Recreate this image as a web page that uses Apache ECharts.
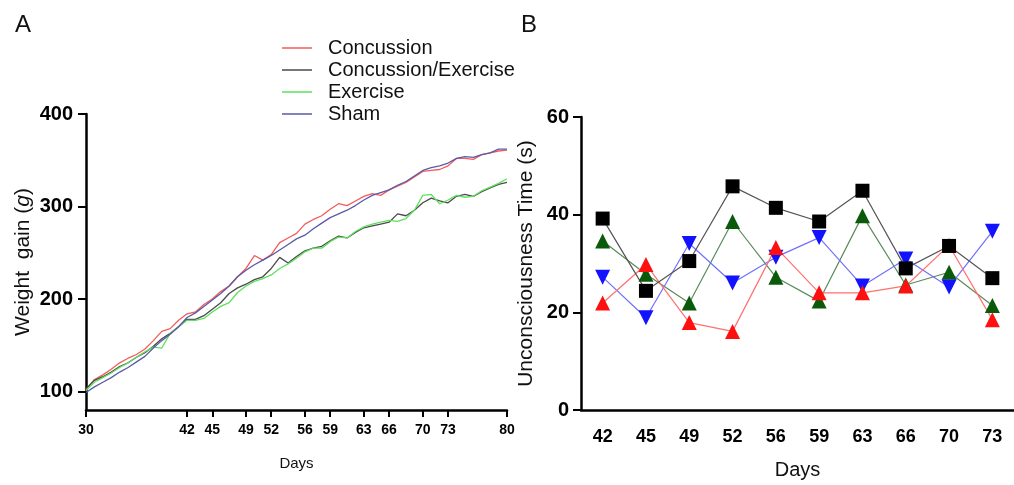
<!DOCTYPE html>
<html>
<head>
<meta charset="utf-8">
<script src="https://cdn.jsdelivr.net/npm/echarts@6/dist/echarts.min.js"></script>
<style>
html, body { margin: 0; padding: 0; background: #fff; }
#chart1 { width: 1014px; height: 485px; }
</style>
</head>
<body>
<div id="chart1"></div>
<script>
// panel A: weight gain, one value per day from 30 to 80
var days = [];
for (var d = 30; d <= 80; d++) days.push(d);
var dayTicks = [30, 42, 45, 49, 52, 56, 59, 63, 66, 70, 73, 80];
var weightTicks = [100, 200, 300, 400];

var concussion = [102, 113, 118, 124, 131, 136, 140, 146, 155, 165, 168, 177, 184, 186, 194, 200, 208, 214, 224, 233,
    247, 242, 248, 261, 266, 271, 281, 286, 290, 297, 303, 301, 306, 311, 314, 312, 318, 322, 326, 332,
    338, 339, 340, 344, 352, 352, 351, 356, 358, 360, 361];
var concExercise = [103, 112, 116, 121, 127, 131, 137, 142, 149, 157, 163, 170, 178, 178, 182, 189, 196, 206, 212, 216,
    221, 224, 233, 245, 239, 246, 252, 255, 257, 263, 268, 266, 272, 277, 279, 281, 283, 292, 290, 296,
    304, 309, 306, 304, 311, 313, 311, 316, 320, 324, 326];
var exercise = [101, 110, 115, 120, 126, 131, 137, 143, 148, 147, 163, 170, 177, 177, 179, 186, 192, 196, 207, 214,
    219, 222, 226, 233, 238, 244, 251, 255, 255, 262, 267, 266, 273, 278, 281, 283, 285, 284, 287, 296,
    312, 313, 303, 307, 312, 310, 311, 317, 321, 325, 330];
var sham = [99, 105, 110, 115, 121, 126, 132, 138, 147, 155, 162, 170, 180, 185, 192, 199, 206, 214, 224, 231,
    237, 242, 247, 253, 259, 265, 269, 276, 282, 288, 292, 296, 301, 307, 312, 315, 318, 323, 327, 333,
    339, 342, 344, 347, 352, 354, 353, 356, 358, 362, 362];

// panel B: unconsciousness time
var testDays = ['42', '45', '49', '52', '56', '59', '63', '66', '70', '73'];
var timeBlack = [39.2, 24.4, 30.5, 45.8, 41.4, 38.6, 44.9, 29.0, 33.6, 27.0];
var timeGreen = [34.6, 27.8, 21.9, 38.6, 27.2, 22.3, 39.8, 25.6, 28.2, 21.4];
var timeBlue = [27.2, 18.9, 34.1, 26.0, 31.3, 35.3, 25.4, 30.9, 25.2, 36.6];
var timeRed = [21.9, 29.8, 17.9, 16.1, 33.3, 24.0, 24.0, 25.4, 33.7, 18.5];

function pairs(xs, ys) {
    return xs.map(function (x, i) { return [x, ys[i]]; });
}

var chart = echarts.init(document.getElementById('chart1'));

var axisLine = { lineStyle: { color: '#000', width: 2.5 } };
var tickStyle = { lineStyle: { color: '#000', width: 2 } };
var boldLabel = { color: '#000', fontWeight: 'bold', fontFamily: 'Liberation Sans' };
var nameFont = { color: '#111', fontFamily: 'Liberation Sans' };

function weightLine(name, data, color) {
    return {
        name: name, type: 'line', xAxisIndex: 0, yAxisIndex: 0,
        data: pairs(days, data), showSymbol: false, symbol: 'none',
        lineStyle: { color: color, width: 1.3 }, itemStyle: { color: color }
    };
}

function timeLine(name, data, symbol, fill, line, size) {
    return {
        name: name, type: 'line', xAxisIndex: 1, yAxisIndex: 1,
        data: data, symbol: symbol, symbolSize: size,
        itemStyle: { color: fill }, lineStyle: { color: line, width: 1.2 }
    };
}

var option = {
    animation: false,
    title: [
        { text: 'A', left: 10, top: 8, textStyle: { fontSize: 24, fontWeight: 'normal', color: '#111', fontFamily: 'Liberation Sans' } },
        { text: 'B', left: 516, top: 8, textStyle: { fontSize: 24, fontWeight: 'normal', color: '#111', fontFamily: 'Liberation Sans' } }
    ],
    legend: {
        data: ['Concussion', 'Concussion/Exercise', 'Exercise', 'Sham'],
        orient: 'vertical', left: 282, top: 38, padding: 0,
        icon: 'rect', itemWidth: 30, itemHeight: 1.5, itemGap: 2,
        textStyle: { fontSize: 20, lineHeight: 20, color: '#111', fontFamily: 'Liberation Sans', padding: [0, 0, 0, 11] }
    },
    grid: [
        { left: 86, right: 507, top: 114, bottom: 75 },
        { left: 581, right: -8, top: 117, bottom: 73 }
    ],
    xAxis: [{
        gridIndex: 0, type: 'value', min: 30, max: 80,
        name: 'Days', nameLocation: 'middle', nameGap: 46,
        nameTextStyle: Object.assign({ fontSize: 15 }, nameFont),
        axisLine: axisLine, splitLine: { show: false },
        axisTick: Object.assign({ length: 7, customValues: dayTicks }, tickStyle),
        axisLabel: Object.assign({ fontSize: 14, margin: 13, customValues: dayTicks }, boldLabel)
    }, {
        gridIndex: 1, type: 'category', data: testDays,
        name: 'Days', nameLocation: 'middle', nameGap: 50,
        nameTextStyle: Object.assign({ fontSize: 20 }, nameFont),
        axisLine: axisLine,
        axisTick: Object.assign({ length: 7, alignWithLabel: true }, tickStyle),
        axisLabel: Object.assign({}, boldLabel, { fontSize: 18, margin: 18, fontFamily: 'Liberation Sans Narrow, Liberation Sans' })
    }],
    yAxis: [{
        gridIndex: 0, type: 'value', min: 80, max: 400,
        name: '{a|Weight  gain (}{i|g}{a|)}', nameLocation: 'middle', nameGap: 52, nameRotate: 90,
        nameTextStyle: { rich: {
            a: Object.assign({ fontSize: 21 }, nameFont),
            i: Object.assign({ fontSize: 21, fontStyle: 'italic' }, nameFont)
        } },
        axisLine: Object.assign({ show: true }, axisLine), splitLine: { show: false },
        axisTick: Object.assign({ show: true, length: 8, customValues: weightTicks }, tickStyle),
        axisLabel: Object.assign({ fontSize: 20, margin: 13, customValues: weightTicks }, boldLabel)
    }, {
        gridIndex: 1, type: 'value', min: 0, max: 60, interval: 20,
        name: 'Unconsciousness Time (s)', nameLocation: 'middle', nameGap: 44,
        nameTextStyle: Object.assign({ fontSize: 21 }, nameFont),
        axisLine: Object.assign({ show: true }, axisLine), splitLine: { show: false },
        axisTick: Object.assign({ show: true, length: 8 }, tickStyle),
        axisLabel: Object.assign({ fontSize: 20, margin: 12 }, boldLabel)
    }],
    series: [
        weightLine('Concussion', concussion, '#f25c5c'),
        weightLine('Concussion/Exercise', concExercise, '#4a4a4a'),
        weightLine('Exercise', exercise, '#5fe05f'),
        weightLine('Sham', sham, '#5a5aa6'),
        timeLine('B1', timeGreen, 'triangle', '#0b5a0b', '#5a8a5a', 15),
        timeLine('B2', timeBlue, 'path://M0,0 L10,0 L5,9 Z', '#1212ff', '#7070ff', 15),
        timeLine('B3', timeRed, 'triangle', '#ff1010', '#ff7070', 15),
        timeLine('B0', timeBlack, 'rect', '#000', '#555', 14)
    ]
};

chart.setOption(option);
</script>
</body>
</html>
